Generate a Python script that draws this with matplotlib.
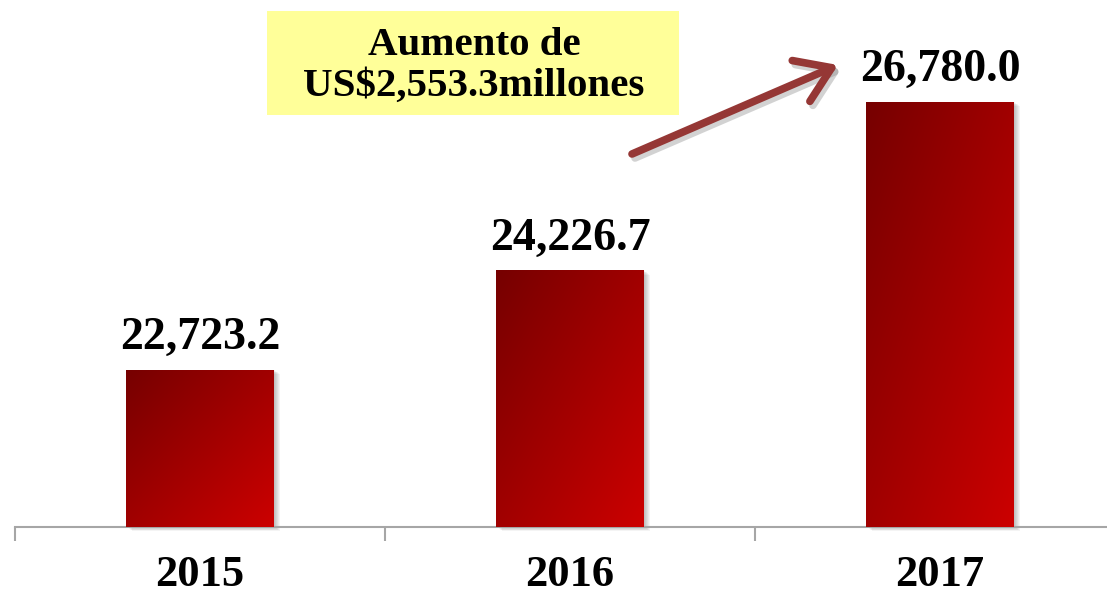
import matplotlib.pyplot as plt
import numpy as np
import matplotlib.patches as patches
import matplotlib.transforms as mtransforms
from matplotlib.colors import LinearSegmentedColormap

# datos
years = ['2015', '2016', '2017']
values = [22723.2, 24226.7, 26780.0]
value_labels = ['22,723.2', '24,226.7', '26,780.0']
note = 'Aumento de\nUS$2,553.3millones'

W, H = 1107, 598
fig = plt.figure(figsize=(W / 100, H / 100), dpi=100)
ax = fig.add_axes([15 / W, 71 / H, 1110 / W, 527 / H])
ymin, ymax = 20341, 28319
ax.set_xlim(-0.5, 2.5)
ax.set_ylim(ymin, ymax)

x = np.arange(len(years))
bars = ax.bar(x, values, width=0.4, color='none', zorder=3)

cmap = LinearSegmentedColormap.from_list('rojo', ['#760000', '#cc0000'])
grad = np.add.outer(np.linspace(0, 1, 120), np.linspace(0, 1, 120)) / 2

for b in bars:
    x0, w, top = b.get_x(), b.get_width(), b.get_height()
    # sombra suave
    for k in range(1, 7):
        off = mtransforms.ScaledTranslation(k / 100, -k / 100 * 0.7, fig.dpi_scale_trans)
        sh = patches.Rectangle((x0, ymin), w, top - ymin, facecolor='black',
                               alpha=0.045, edgecolor='none', zorder=2,
                               transform=ax.transData + off, clip_on=False)
        ax.add_patch(sh)
    im = ax.imshow(grad, cmap=cmap, extent=(x0, x0 + w, ymin, top),
                   origin='upper', aspect='auto', zorder=3)
    im.set_clip_path(b)

ax.set_xlim(-0.5, 2.5)
ax.set_ylim(ymin, ymax)

for xi, v, lbl in zip(x, values, value_labels):
    ax.annotate(lbl, (xi, v), xytext=(0, 15), textcoords='offset points',
                ha='center', va='baseline', fontsize=33, fontweight='bold',
                family='Liberation Serif', zorder=5)

for s in ['top', 'left', 'right']:
    ax.spines[s].set_visible(False)
ax.spines['bottom'].set_color('#a6a6a6')
ax.spines['bottom'].set_linewidth(1.5)
ax.set_yticks([])
ax.set_xticks(x)
ax.set_xticklabels(years, fontsize=32, fontweight='bold', family='Liberation Serif')
ax.set_xticks([-0.5, 0.5, 1.5, 2.5], minor=True)
ax.tick_params(axis='x', which='major', length=0, pad=20)
ax.tick_params(axis='x', which='minor', length=10, width=1.5, color='#a6a6a6')

# recuadro amarillo
box = patches.Rectangle((267 / W, (H - 115) / H), 412 / W, 104 / H,
                        transform=fig.transFigure, facecolor='#ffff99',
                        edgecolor='none', zorder=1)
fig.add_artist(box)
fig.text(474 / W, 1 - 66 / H, note, ha='center', va='center', fontsize=29.5,
         fontweight='bold', family='Liberation Serif', linespacing=1.12)

# flecha
for dx, dy, col, a in [(3, -4, 'gray', 0.35), (0, 0, '#953735', 1.0)]:
    ax.annotate('', xy=(838 + dx, H - 65 + dy), xycoords='figure pixels',
                xytext=(632 + dx, H - 154 + dy), textcoords='figure pixels',
                arrowprops=dict(arrowstyle='->,head_length=0.6,head_width=0.4',
                                lw=5.5, color=col, alpha=a, mutation_scale=40,
                                shrinkA=0, shrinkB=0, capstyle='round',
                                joinstyle='round'),
                annotation_clip=False)

fig.savefig('out.png', dpi=100)
